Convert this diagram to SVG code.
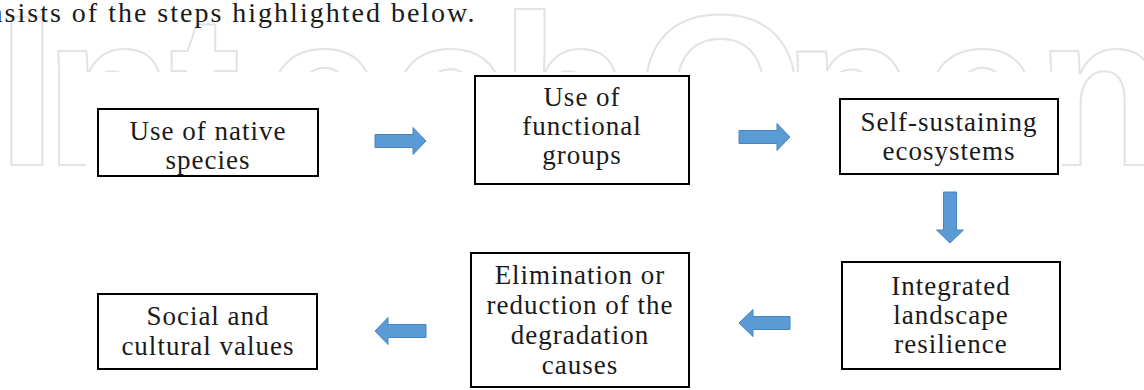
<svg xmlns="http://www.w3.org/2000/svg" width="1144" height="390" viewBox="0 0 1144 390">
<style>
.box{fill:#fff;stroke:#000;stroke-width:2}
.lbl{font-family:"Liberation Serif","Times New Roman",Tinos,"Noto Serif","DejaVu Serif",serif;font-size:27px;fill:#1a1a1a;text-anchor:middle;letter-spacing:1px}
.arr{fill:#5b9bd5;stroke:#4a84be;stroke-width:1}
.wm{font-family:"Liberation Sans",Arial,sans-serif;font-weight:bold;fill:none;stroke:#e3e3e3;stroke-width:2}
</style>
<rect width="1144" height="390" fill="#fff"/>
<g id="watermark">
<text class="wm" x="-3 44 169 263 388 500 637 783 921 1036" y="165" font-size="215">IntechOpen</text>
</g>
<rect x="86" y="72" width="976" height="318" fill="#fff"/>
<text id="header" x="476.5" y="22" font-family="'Liberation Serif','Times New Roman',Tinos,'Noto Serif','DejaVu Serif',serif" font-size="28" letter-spacing="2" text-anchor="end" fill="#1a1a1a">nsists of the steps highlighted below.</text>
<g id="connectors">
<polygon class="arr" points="375,134.5 413,134.5 413,127.5 426,141 413,154.5 413,147.5 375,147.5"/>
<polygon class="arr" points="739,130.5 777,130.5 777,123.5 790,137 777,150.5 777,143.5 739,143.5"/>
<polygon class="arr" points="943.5,192 956.5,192 956.5,230 963.5,230 950,243 936.5,230 943.5,230"/>
<polygon class="arr" points="790,316.5 753,316.5 753,309.5 739,323 753,336.5 753,329.5 790,329.5"/>
<polygon class="arr" points="426,324.5 388,324.5 388,317.5 375,331 388,344.5 388,337.5 426,337.5"/>
</g>
<g id="n1">
<rect class="box" x="98" y="109" width="220" height="67"/>
<text class="lbl" x="208" y="140">Use of native</text>
<text class="lbl" x="208" y="169">species</text>
</g>
<g id="n2">
<rect class="box" x="475" y="76" width="214" height="108"/>
<text class="lbl" x="582" y="106">Use of</text>
<text class="lbl" x="582" y="135">functional</text>
<text class="lbl" x="582" y="164">groups</text>
</g>
<g id="n3">
<rect class="box" x="840" y="99" width="218" height="75"/>
<text class="lbl" x="949" y="131">Self-sustaining</text>
<text class="lbl" x="949" y="160">ecosystems</text>
</g>
<g id="n4">
<rect class="box" x="842" y="262" width="218" height="107"/>
<text class="lbl" x="951" y="295">Integrated</text>
<text class="lbl" x="951" y="324">landscape</text>
<text class="lbl" x="951" y="353">resilience</text>
</g>
<g id="n5">
<rect class="box" x="471" y="253" width="218" height="134"/>
<text class="lbl" x="580" y="284">Elimination or</text>
<text class="lbl" x="580" y="314">reduction of the</text>
<text class="lbl" x="580" y="344">degradation</text>
<text class="lbl" x="580" y="374">causes</text>
</g>
<g id="n6">
<rect class="box" x="98" y="294" width="219" height="75"/>
<text class="lbl" x="208" y="325">Social and</text>
<text class="lbl" x="208" y="355">cultural values</text>
</g>
</svg>
